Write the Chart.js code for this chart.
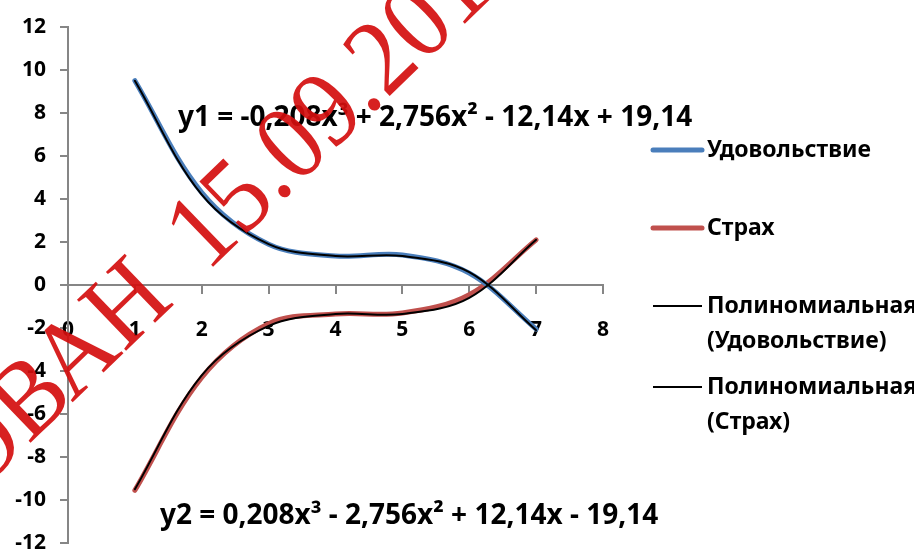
<!DOCTYPE html>
<html>
<head>
<meta charset="utf-8">
<script src="https://cdn.jsdelivr.net/npm/chart.js@4"></script>
<style>
  html, body { margin: 0; padding: 0; background: #fff; }
</style>
</head>
<body>
<canvas id="chartCanvas" width="914" height="551"></canvas>
<script>
// данные
const xValues = [1, 2, 3, 4, 5, 6, 7];
const pleasure = [9.5, 4.3, 1.9, 1.35, 1.4, 0.55, -2.05];
const fear = [-9.55, -4.3, -1.8, -1.35, -1.3, -0.45, 2.1];
const pleasureTrend = [9.5, 4.2, 1.9, 1.35, 1.35, 0.6, -2.1];
const fearTrend = [-9.5, -4.2, -1.9, -1.35, -1.35, -0.6, 2.1];
const xTicks = [0, 1, 2, 3, 4, 5, 6, 7, 8];
const yTicks = [-12, -10, -8, -6, -4, -2, 0, 2, 4, 6, 8, 10, 12];
const seriesNames = [["Удовольствие"], ["Страх"], ["Полиномиальная", "(Удовольствие)"], ["Полиномиальная", "(Страх)"]];
const equations = ["y1 = -0,208x³ + 2,756x² - 12,14x + 19,14", "y2 = 0,208x³ - 2,756x² + 12,14x - 19,14"];
const stampWord = "ИСПОЛЬЗОВАН";
const stampDate = "15.09.2014";

const FONT = "'Noto Sans', 'Open Sans', sans-serif";
const toPoints = (ys) => ys.map((y, i) => ({ x: xValues[i], y }));

// легенда справа, подписи уравнений и штамп
const overlay = {
  id: "overlay",
  afterDraw(chart) {
    const c = chart.ctx;
    c.save();

    // уравнения трендов
    c.fillStyle = "#000";
    c.font = "bold 28px " + FONT;
    c.textBaseline = "middle";
    c.textAlign = "left";
    c.fillText(equations[0], 178, 118);
    c.fillText(equations[1], 160, 516);

    // легенда
    const rowY = [150, 228, 306, 387];
    c.font = "bold 23px " + FONT;
    chart.data.datasets.forEach((ds, i) => {
      c.strokeStyle = ds.borderColor;
      c.lineWidth = ds.borderWidth;
      c.lineCap = ds.borderWidth > 2 ? "round" : "butt";
      c.beginPath();
      c.moveTo(653, rowY[i]);
      c.lineTo(702, rowY[i]);
      c.stroke();
      c.fillStyle = "#000";
      ds.label.forEach((t, k) => c.fillText(t, 707, rowY[i] + k * 35));
    });

    // красный штамп поверх графика
    c.font = "100px 'Liberation Serif', 'DejaVu Serif', serif";
    c.fillStyle = "rgba(212, 14, 14, 0.92)";
    c.translate(205, 235);
    c.rotate(-44 * Math.PI / 180);
    c.scale(1, 1.08);
    c.textBaseline = "middle";
    const halfOne = c.measureText("1").width / 2;
    const halfH = c.measureText("Н").width / 2;
    c.textAlign = "left";
    c.fillText(stampDate, -halfOne, 0);
    c.textAlign = "right";
    c.fillText(stampWord, -104 + halfH, 0);
    c.restore();
  }
};

const ctx = document.getElementById("chartCanvas").getContext("2d");
new Chart(ctx, {
  type: "scatter",
  data: {
    datasets: [
      { label: seriesNames[0], data: toPoints(pleasure), borderColor: "#4a7ebb", borderWidth: 5, order: 2 },
      { label: seriesNames[1], data: toPoints(fear), borderColor: "#c0504d", borderWidth: 5, order: 2 },
      { label: seriesNames[2], data: toPoints(pleasureTrend), borderColor: "#000", borderWidth: 2, order: 1 },
      { label: seriesNames[3], data: toPoints(fearTrend), borderColor: "#000", borderWidth: 2, order: 1 }
    ].map((d) => ({ ...d, showLine: true, tension: 0.35, pointRadius: 0, borderCapStyle: "round", fill: false }))
  },
  options: {
    responsive: false,
    animation: false,
    layout: { padding: { top: 27, right: 311, bottom: 8, left: 0 } },
    plugins: { legend: { display: false }, tooltip: { enabled: false } },
    scales: {
      x: {
        type: "linear",
        min: 0,
        max: 8,
        position: { y: 0 },
        afterBuildTicks: (s) => { s.ticks = xTicks.map((v) => ({ value: v })); },
        afterFit: (s) => { s.paddingLeft = 0; s.paddingRight = 0; },
        ticks: { color: "#000", font: { family: FONT, size: 21, weight: "bold" }, padding: 24 },
        grid: { drawOnChartArea: false, tickLength: 8, color: "#868686", lineWidth: 2 },
        border: { color: "#868686", width: 2 }
      },
      y: {
        type: "linear",
        min: -12,
        max: 12,
        afterBuildTicks: (s) => { s.ticks = yTicks.map((v) => ({ value: v })); },
        afterFit: (s) => { s.width = 68; s.paddingTop = 0; s.paddingBottom = 0; },
        ticks: { color: "#000", font: { family: FONT, size: 21, weight: "bold" }, padding: 14 },
        grid: { drawOnChartArea: false, tickLength: 8, color: "#868686", lineWidth: 2 },
        border: { color: "#868686", width: 2 }
      }
    }
  },
  plugins: [overlay]
});
</script>
</body>
</html>
